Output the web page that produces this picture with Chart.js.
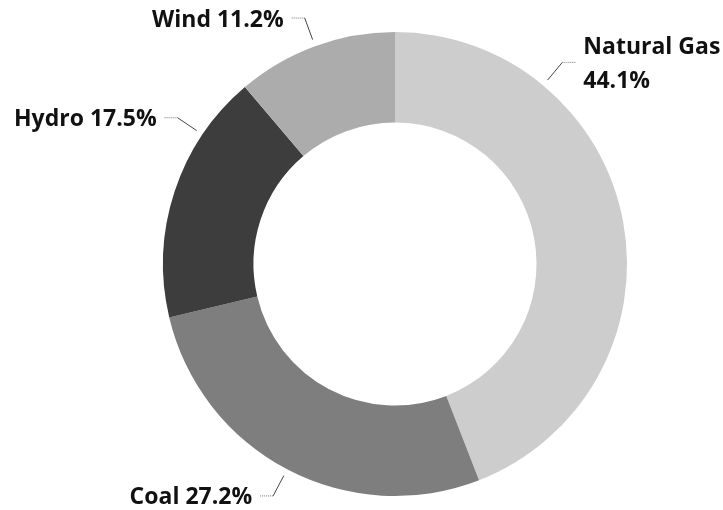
<!DOCTYPE html>
<html>
<head>
<meta charset="utf-8">
<script src="https://cdn.jsdelivr.net/npm/chart.js@4.4.1/dist/chart.umd.min.js"></script>
<style>
  html, body { margin: 0; padding: 0; background: #fff; }
  #wrap { width: 723px; height: 510px; }
</style>
</head>
<body>
<div id="wrap"><canvas id="mix"></canvas></div>
<script>
// data
const categories = ["Natural Gas", "Coal", "Hydro", "Wind"];
const shares = [44.1, 27.2, 17.5, 11.2];

// styles
const sliceColors = ["#cdcdcd", "#7e7e7e", "#3d3d3d", "#acacac"];
// where along each slice the leader line sits (0 = start, 1 = end)
const leaderAt = [0.25, 0.5, 0.75, 0.5];

const labelFont = "bold 23px 'Open Sans', sans-serif";

const leaderLabels = {
  id: "leaderLabels",
  afterDraw(chart) {
    const ctx = chart.ctx;
    const meta = chart.getDatasetMeta(0);
    ctx.save();
    ctx.font = labelFont;
    meta.data.forEach(function (arc, i) {
      const a = arc.startAngle + (arc.endAngle - arc.startAngle) * leaderAt[i];
      const r0 = arc.outerRadius + 7;
      const r1 = arc.outerRadius + 30;
      const x0 = arc.x + Math.cos(a) * r0;
      const y0 = arc.y + Math.sin(a) * r0;
      const x1 = arc.x + Math.cos(a) * r1;
      const y1 = arc.y + Math.sin(a) * r1;
      const right = x1 > arc.x;
      const x2 = right ? x1 + 13 : x1 - 13;

      ctx.strokeStyle = "#444";
      ctx.lineWidth = 1;
      ctx.beginPath();
      ctx.moveTo(x0, y0);
      ctx.lineTo(x1, y1);
      ctx.stroke();
      ctx.setLineDash([1, 1]);
      ctx.strokeStyle = "#777";
      ctx.beginPath();
      ctx.moveTo(x1, y1);
      ctx.lineTo(x2, y1);
      ctx.stroke();
      ctx.setLineDash([]);

      const tx = right ? x2 + 8 : x2 - 8;
      let lines = [categories[i] + " " + shares[i] + "%"];
      const w = ctx.measureText(lines[0]).width;
      if ((right && tx + w > chart.width - 2) || (!right && tx - w < 2)) {
        lines = [categories[i], shares[i] + "%"];
      }
      ctx.fillStyle = "#111";
      ctx.textAlign = right ? "left" : "right";
      ctx.textBaseline = "middle";
      const lh = 34;
      const top = y1 + 2 - (lines.length - 1) * lh / 2;
      lines.forEach(function (t, k) {
        ctx.fillText(t, tx, top + k * lh);
      });
    });
    ctx.restore();
  }
};

const chart = new Chart(document.getElementById("mix").getContext("2d"), {
  type: "doughnut",
  data: {
    labels: categories,
    datasets: [{
      data: shares,
      backgroundColor: sliceColors,
      borderWidth: 0,
      hoverOffset: 0
    }]
  },
  options: {
    responsive: true,
    maintainAspectRatio: false,
    animation: false,
    cutout: "61%",
    layout: {
      padding: { top: 32, bottom: 14, left: 67, right: 0 }
    },
    plugins: {
      legend: { display: false },
      tooltip: { enabled: false },
      title: { display: false }
    }
  },
  plugins: [leaderLabels]
});
</script>
</body>
</html>
